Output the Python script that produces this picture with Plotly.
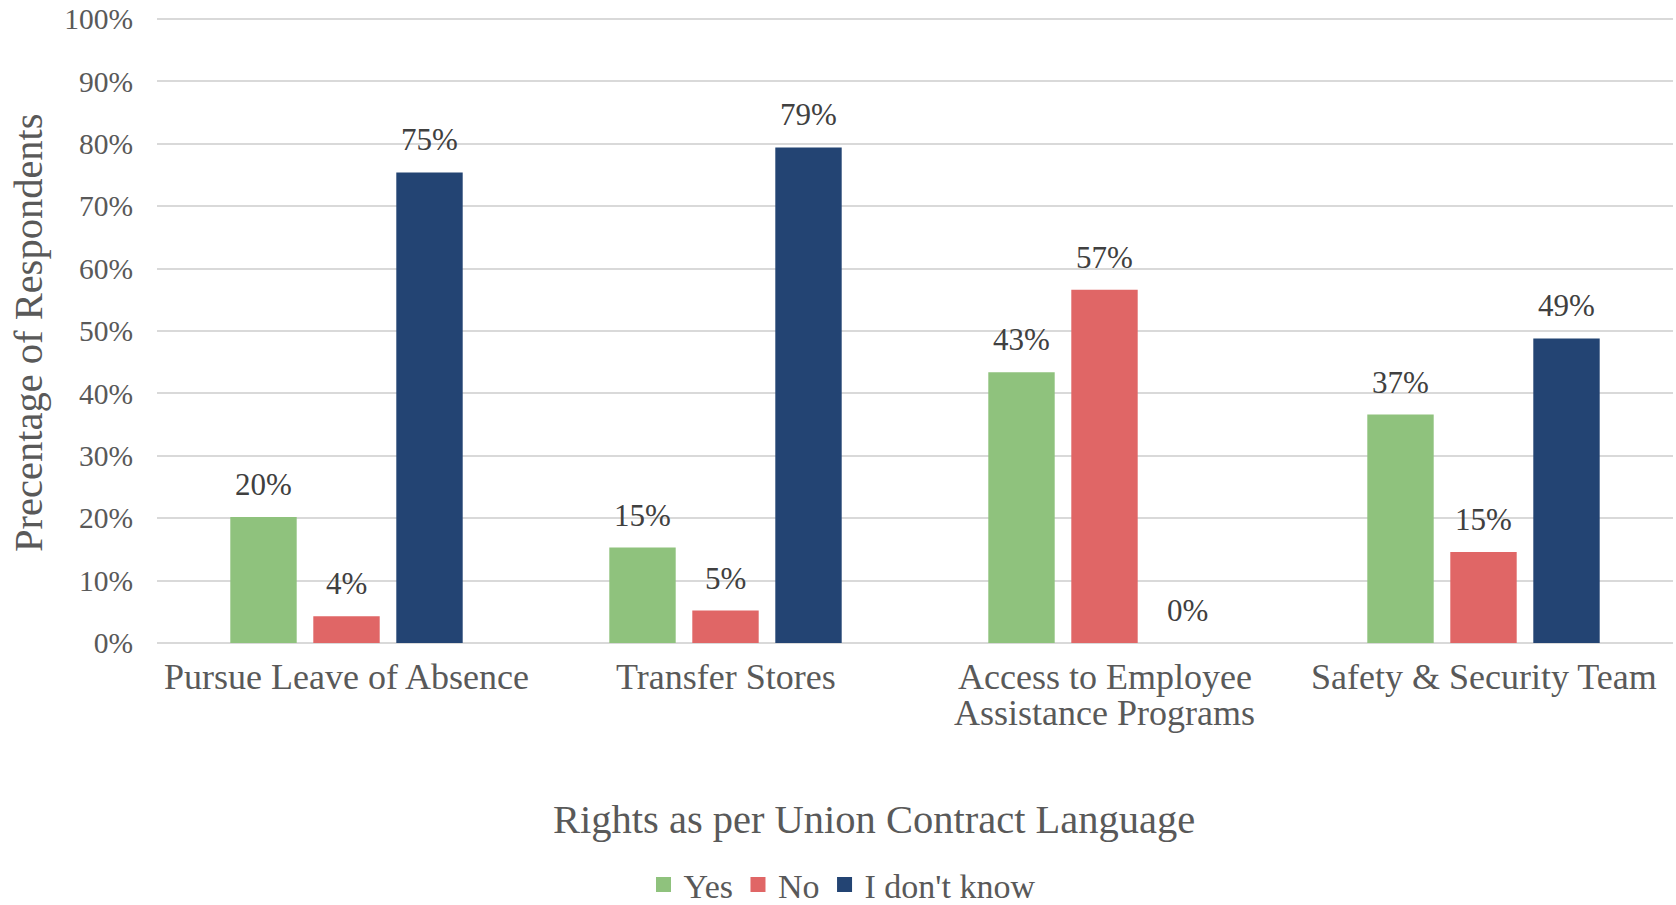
import plotly.graph_objects as go

categories = ["Pursue Leave of Absence", "Transfer Stores",
              "Access to Employee<br>Assistance Programs", "Safety & Security Team"]
yes_vals = [20.2, 15.3, 43.4, 36.6]
no_vals = [4.3, 5.2, 56.6, 14.6]
dk_vals = [75.4, 79.4, 0.0, 48.8]
series_names = ["Yes", "No", "I don't know"]
colors = ["#8fc27d", "#e06666", "#234473"]
tick_vals = [0, 10, 20, 30, 40, 50, 60, 70, 80, 90, 100]
tick_text = [f"{v}%" for v in tick_vals]

FONT = "Liberation Serif, Times New Roman, serif"
W, H = 1676, 905
ML, MR, MT, MB = 157, 3, 17, 262
BARGAP, GROUPGAP = 0.343, 0.2
plot_w = W - ML - MR
slot = plot_w / len(categories) * (1 - BARGAP) / len(series_names)

fig = go.Figure()
annotations = []
all_vals = [yes_vals, no_vals, dk_vals]
for k, (name, vals, col) in enumerate(zip(series_names, all_vals, colors)):
    fig.add_trace(go.Bar(
        name=name, x=categories, y=vals, marker_color=col,
        marker_line_width=0, showlegend=False,
    ))
    # legend entry with larger square swatch
    fig.add_trace(go.Scatter(
        name=name, x=[None], y=[None], mode="markers",
        marker=dict(symbol="square", size=15, color=col), showlegend=True,
    ))
    for c, v in zip(categories, vals):
        annotations.append(dict(
            x=c, y=v, xref="x", yref="y", text=f"{v:.0f}%", showarrow=False,
            xanchor="center", yanchor="bottom", xshift=(k - 1) * slot, yshift=13,
            font=dict(family=FONT, size=31, color="#404040"),
        ))

# category labels (one annotation per text line for tighter line spacing)
for c in categories:
    for i, line in enumerate(c.split("<br>")):
        annotations.append(dict(
            x=c, y=0, xref="x", yref="paper", text=line, showarrow=False,
            xanchor="center", yanchor="middle", yshift=-34 - 36 * i,
            font=dict(family=FONT, size=36, color="#595959"),
        ))

plot_h = H - MT - MB
annotations.append(dict(text="Rights as per Union Contract Language", xref="paper", yref="paper",
                        x=(874 - ML) / plot_w, y=(H - MB - 819) / plot_h,
                        xanchor="center", yanchor="middle", showarrow=False,
                        font=dict(family=FONT, size=40.5, color="#595959")))
annotations.append(dict(text="Precentage of Respondents", xref="paper", yref="paper",
                        x=(28 - ML) / plot_w, y=(H - MB - 333) / plot_h, textangle=-90,
                        xanchor="center", yanchor="middle", showarrow=False,
                        font=dict(family=FONT, size=40.5, color="#595959")))

fig.update_layout(
    width=W, height=H,
    margin=dict(l=ML, r=MR, t=MT, b=MB, autoexpand=False),
    paper_bgcolor="white", plot_bgcolor="white",
    barmode="group", bargap=BARGAP, bargroupgap=GROUPGAP,
    font=dict(family=FONT, color="#595959"),
    showlegend=True,
    legend=dict(orientation="h", x=(842 - ML) / plot_w, xanchor="center",
                y=(H - MB - 885) / plot_h, yanchor="middle",
                font=dict(family=FONT, size=34, color="#595959"),
                itemwidth=30, traceorder="normal"),
    annotations=annotations,
)
fig.update_yaxes(range=[0, 100.3], tickvals=tick_vals, ticktext=tick_text, automargin=False,
                 showgrid=True, gridcolor="#d9d9d9", gridwidth=1.5,
                 zeroline=True, zerolinecolor="#d9d9d9", zerolinewidth=1.5,
                 tickfont=dict(family=FONT, size=29.5, color="#595959"),
                 ticks="outside", ticklen=17, tickcolor="rgba(0,0,0,0)")
fig.update_xaxes(showgrid=False, showline=False, showticklabels=False, automargin=False,
                 categoryorder="array", categoryarray=categories)

fig.write_html("out.html", config={"displayModeBar": False},
               post_script="document.body.style.margin='0';document.body.style.overflow='hidden';")
